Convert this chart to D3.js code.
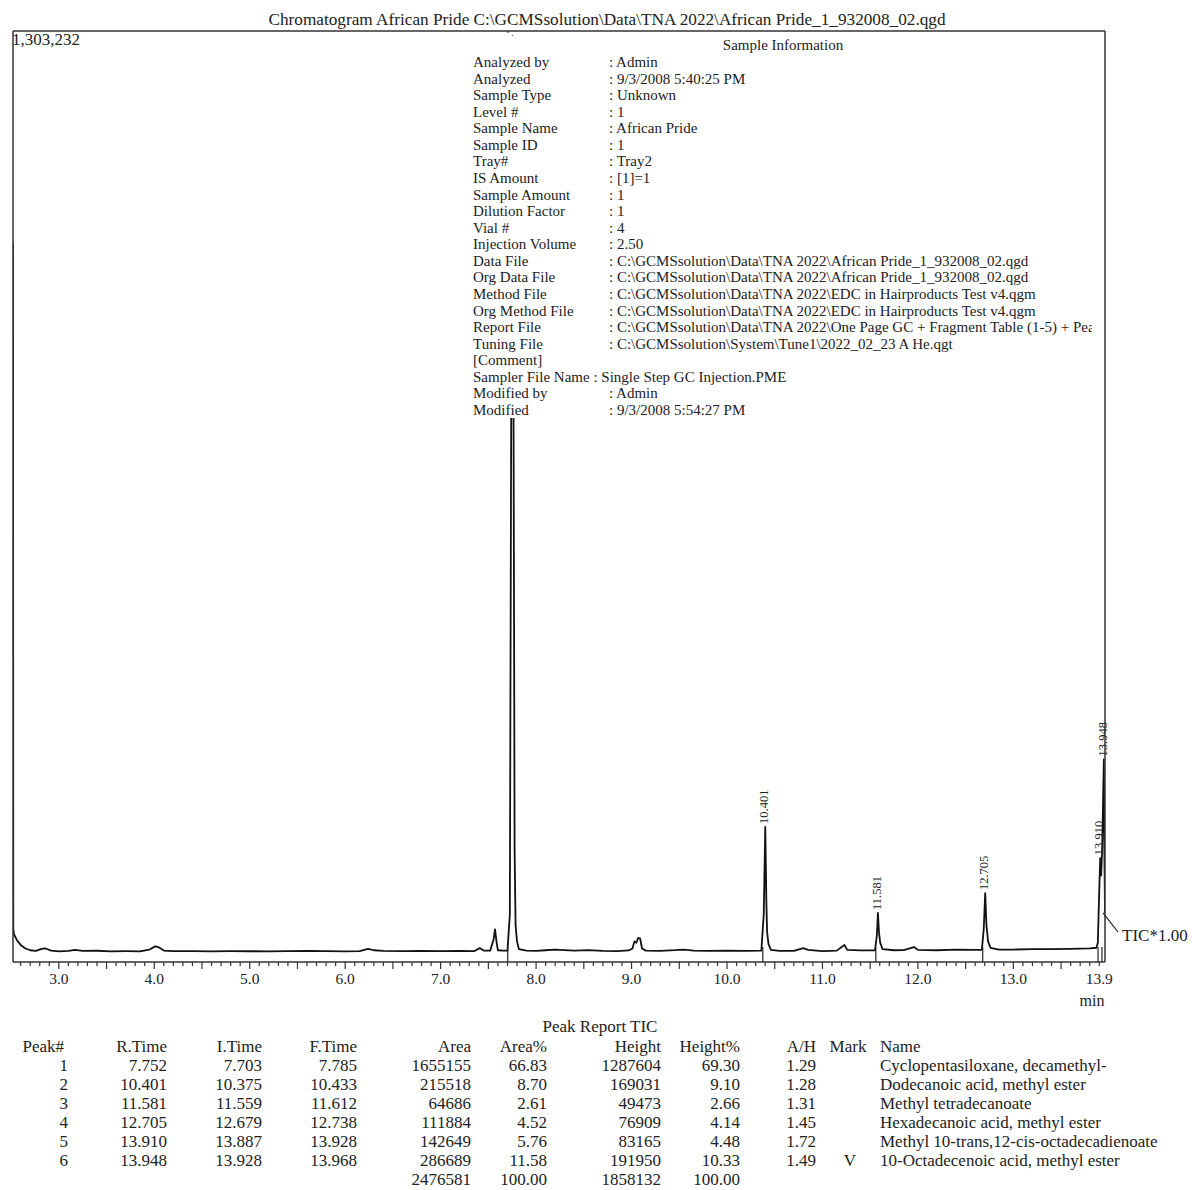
<!DOCTYPE html>
<meta charset="utf-8">
<style>
body { margin: 0; background: #fff; }
svg text { font-family: "Liberation Serif", "DejaVu Serif", serif; fill: #222; }
.frame line { stroke: #333; stroke-width: 1.5px; }
.trace { fill: none; stroke: #111; stroke-width: 1.8px; stroke-linejoin: round; }
</style>
<svg width="1192" height="1190"></svg>
<script src="https://d3js.org/d3.v7.min.js"></script>
<script>

var title = "Chromatogram African Pride C:\\GCMSsolution\\Data\\TNA 2022\\African Pride_1_932008_02.qgd";
var yMaxLabel = "1,303,232";
var yMax = 1303232;
var tStart = 2.52, tEnd = 13.96;
var tickLabels = ["3.0", "4.0", "5.0", "6.0", "7.0", "8.0", "9.0", "10.0", "11.0", "12.0", "13.0", "13.9"];

// TIC trace (min, counts)
var traceT = [2.520, 2.523, 2.53, 2.56, 2.60, 2.65, 2.70, 2.76, 2.82, 2.86, 2.92, 3.00, 3.10, 3.17, 3.25, 3.40,
  3.55, 3.70, 3.85, 3.95, 4.01, 4.05, 4.10, 4.20, 4.40, 4.60, 4.80, 5.00, 5.20, 5.40, 5.60, 5.80, 6.00, 6.15,
  6.24, 6.30, 6.40, 6.60, 6.80, 7.00, 7.20, 7.35, 7.41, 7.45, 7.52, 7.555, 7.570, 7.585, 7.60, 7.66, 7.70,
  7.725, 7.738, 7.752, 7.765, 7.775, 7.785, 7.80, 7.82, 7.90, 8.00, 8.10, 8.20, 8.30, 8.40, 8.55, 8.70, 8.85,
  8.97, 9.01, 9.03, 9.05, 9.07, 9.09, 9.11, 9.15, 9.30, 9.45, 9.55, 9.65, 9.80, 10.00, 10.20, 10.36, 10.385,
  10.401, 10.412, 10.42, 10.435, 10.46, 10.55, 10.70, 10.80, 10.85, 11.00, 11.15, 11.23, 11.26, 11.40, 11.55,
  11.57, 11.581, 11.592, 11.605, 11.63, 11.75, 11.85, 11.96, 12.00, 12.20, 12.40, 12.60, 12.67, 12.69, 12.705,
  12.718, 12.735, 12.76, 12.85, 13.00, 13.20, 13.40, 13.60, 13.80, 13.87, 13.885, 13.897, 13.910, 13.92, 13.93,
  13.948, 13.955, 13.96];
var traceV = [1005000, 40000, 32000, 24000, 17000, 12000, 9500, 8500, 11500, 12000, 9000, 8000, 8500, 10000, 8600, 8800,
  8000, 8200, 8000, 10500, 15000, 13500, 9000, 8200, 8400, 8000, 8300, 8100, 8000, 8400, 8600, 8200, 7900, 8200,
  11500, 9500, 8600, 8400, 8700, 8300, 8500, 8200, 12500, 9000, 9000, 25000, 39000, 22000, 9500, 9000, 9000,
  60000, 700000, 1296000, 700000, 150000, 45000, 22000, 11000, 9000, 8500, 9500, 10500, 9800, 9000, 9700, 8600, 8300,
  9200, 12000, 22000, 20000, 27000, 26000, 12000, 9000, 8700, 9600, 10500, 9000, 8500, 8800, 8600, 9000, 60000,
  183000, 80000, 35000, 18000, 10000, 8700, 8500, 12500, 10000, 8400, 9000, 17000, 10000, 9300, 9500,
  30000, 62000, 35000, 20000, 11000, 9500, 9800, 14000, 10000, 9500, 10500, 10000, 10000, 40000, 90000,
  45000, 22000, 13000, 10500, 10500, 11000, 11000, 11500, 12000, 13000, 20000, 80000, 139000, 115000, 150000,
  278000, 130000, 62000];

// peak labels (R.Time) and the trace value at each label
var peakLabelT = [7.752, 10.401, 11.581, 12.705, 13.910, 13.948];
var peakLabelV = [1296000, 183000, 62000, 90000, 139000, 278000];

// sample information
var infoLabels = ["Analyzed by", "Analyzed", "Sample Type", "Level #", "Sample Name", "Sample ID", "Tray#", "IS Amount",
  "Sample Amount", "Dilution Factor", "Vial #", "Injection Volume", "Data File", "Org Data File", "Method File",
  "Org Method File", "Report File", "Tuning File", "[Comment]", "Sampler File Name", "Modified by", "Modified"];
var infoValues = [": Admin", ": 9/3/2008 5:40:25 PM", ": Unknown", ": 1", ": African Pride", ": 1", ": Tray2", ": [1]=1",
  ": 1", ": 1", ": 4", ": 2.50",
  ": C:\\GCMSsolution\\Data\\TNA 2022\\African Pride_1_932008_02.qgd",
  ": C:\\GCMSsolution\\Data\\TNA 2022\\African Pride_1_932008_02.qgd",
  ": C:\\GCMSsolution\\Data\\TNA 2022\\EDC in Hairproducts Test v4.qgm",
  ": C:\\GCMSsolution\\Data\\TNA 2022\\EDC in Hairproducts Test v4.qgm",
  ": C:\\GCMSsolution\\Data\\TNA 2022\\One Page GC + Fragment Table (1-5) + Peak Report.qgr",
  ": C:\\GCMSsolution\\System\\Tune1\\2022_02_23 A He.qgt",
  "", " : Single Step GC Injection.PME", ": Admin", ": 9/3/2008 5:54:27 PM"];

// peak report table
var peakNo = ["1", "2", "3", "4", "5", "6"];
var rTime = ["7.752", "10.401", "11.581", "12.705", "13.910", "13.948"];
var iTime = ["7.703", "10.375", "11.559", "12.679", "13.887", "13.928"];
var fTime = ["7.785", "10.433", "11.612", "12.738", "13.928", "13.968"];
var area = ["1655155", "215518", "64686", "111884", "142649", "286689"];
var areaPct = ["66.83", "8.70", "2.61", "4.52", "5.76", "11.58"];
var height = ["1287604", "169031", "49473", "76909", "83165", "191950"];
var heightPct = ["69.30", "9.10", "2.66", "4.14", "4.48", "10.33"];
var ah = ["1.29", "1.28", "1.31", "1.45", "1.72", "1.49"];
var mark = ["", "", "", "", "", "V"];
var names = ["Cyclopentasiloxane, decamethyl-", "Dodecanoic acid, methyl ester", "Methyl tetradecanoate",
  "Hexadecanoic acid, methyl ester", "Methyl 10-trans,12-cis-octadecadienoate", "10-Octadecenoic acid, methyl ester"];
var totalArea = "2476581", totalAreaPct = "100.00", totalHeight = "1858132", totalHeightPct = "100.00";

var svg = d3.select("svg");
var plotLeft = 13, plotRight = 1105, plotTop = 31, axisY = 962;

var x = d3.scaleLinear().domain([tStart, tEnd]).range([plotLeft, plotRight]);
var y = d3.scaleLinear().domain([0, yMax]).range([957, plotTop]);

var defs = svg.append("defs");
defs.append("clipPath").attr("id", "plot")
  .append("rect").attr("x", plotLeft).attr("y", plotTop)
  .attr("width", plotRight - plotLeft).attr("height", axisY - plotTop);
defs.append("clipPath").attr("id", "labels")
  .append("rect").attr("x", 0).attr("y", plotTop).attr("width", 1192).attr("height", axisY - plotTop);

// title
svg.append("text").attr("x", 607).attr("y", 25).attr("text-anchor", "middle")
  .style("font-size", "16px").attr("textLength", 677).attr("lengthAdjust", "spacingAndGlyphs")
  .text(title);

var plot = svg.append("g").attr("clip-path", "url(#plot)");

var pts = traceT.map(function(t, i) { return [t, traceV[i]]; });
plot.append("path").attr("class", "trace")
  .attr("d", d3.line().x(function(d) { return x(d[0]); }).y(function(d) { return y(d[1]); })(pts));

// peak start markers
plot.selectAll("line.pk").data(iTime).enter().append("line")
  .attr("x1", function(d) { return x(+d); }).attr("x2", function(d) { return x(+d); })
  .attr("y1", y(14000)).attr("y2", axisY + 4)
  .attr("stroke", "#222").attr("stroke-width", 1.2);

// peak labels
svg.append("g").attr("clip-path", "url(#labels)")
  .selectAll("text").data(peakLabelT).enter().append("text")
  .attr("transform", function(d, i) { return "translate(" + (x(d) + 3) + "," + (y(peakLabelV[i]) - 3) + ") rotate(-90)"; })
  .style("font-size", "12.5px")
  .text(function(d) { return d.toFixed(3); });

// sample information box covers the trace
var info = svg.append("g");
info.append("rect").attr("x", 468).attr("y", 36).attr("width", 630).attr("height", 382).attr("fill", "#fff");
info.append("clipPath").attr("id", "infoclip")
  .append("rect").attr("x", 468).attr("y", 36).attr("width", 624).attr("height", 382);
var ig = info.append("g").attr("clip-path", "url(#infoclip)").style("font-size", "15px");
ig.append("text").attr("x", 783).attr("y", 50).attr("text-anchor", "middle").text("Sample Information");
infoLabels.forEach(function(l, i) {
  var yy = 67 + i * 16.57;
  if (l == "Sampler File Name") {
    ig.append("text").attr("x", 473).attr("y", yy).text(l + infoValues[i]);
  } else {
    ig.append("text").attr("x", 473).attr("y", yy).text(l);
    ig.append("text").attr("x", 609).attr("y", yy).text(infoValues[i]);
  }
});

// frame
var fr = svg.append("g").attr("class", "frame");
fr.append("line").attr("x1", plotLeft).attr("x2", plotRight).attr("y1", plotTop).attr("y2", plotTop);
fr.append("line").attr("x1", plotLeft).attr("x2", plotLeft).attr("y1", plotTop).attr("y2", axisY);
fr.append("line").attr("x1", plotRight).attr("x2", plotRight).attr("y1", plotTop).attr("y2", axisY);
fr.append("line").attr("x1", plotLeft).attr("x2", plotRight).attr("y1", axisY).attr("y2", axisY);

// x ticks
var ticks = d3.range(26, 140).map(function(k) { return k / 10; });
svg.append("g").selectAll("line").data(ticks).enter().append("line")
  .attr("x1", function(d) { return x(d); }).attr("x2", function(d) { return x(d); })
  .attr("y1", axisY).attr("y2", function(d) { return Math.round(d * 10) % 5 == 0 ? axisY + 7 : axisY + 4; })
  .attr("stroke", "#333").attr("stroke-width", 1.2);

svg.append("g").selectAll("text").data(tickLabels).enter().append("text")
  .attr("x", function(d) { return x(+d); }).attr("y", 984).attr("text-anchor", "middle")
  .style("font-size", "15.5px").text(function(d) { return d; });
svg.append("text").attr("x", 1092).attr("y", 1006).attr("text-anchor", "middle")
  .style("font-size", "16px").text("min");

svg.append("text").attr("x", 12).attr("y", 45).style("font-size", "17px").text(yMaxLabel);

// TIC label with leader
var last = pts[pts.length - 1];
svg.append("line").attr("x1", x(last[0]) - 2).attr("y1", y(last[1]))
  .attr("x2", 1118).attr("y2", 932).attr("stroke", "#222").attr("stroke-width", 1.2);
svg.append("text").attr("x", 1122).attr("y", 941).style("font-size", "17px").text("TIC*1.00");

// peak report table
var tb = svg.append("g").style("font-size", "17px");
tb.append("text").attr("x", 600).attr("y", 1032).attr("text-anchor", "middle").text("Peak Report TIC");
var cols = [
  { h: "Peak#", v: peakNo, x: 68, hx: 64, a: "end" },
  { h: "R.Time", v: rTime, x: 167, hx: 167, a: "end" },
  { h: "I.Time", v: iTime, x: 262, hx: 262, a: "end" },
  { h: "F.Time", v: fTime, x: 357, hx: 357, a: "end" },
  { h: "Area", v: area, x: 471, hx: 471, a: "end" },
  { h: "Area%", v: areaPct, x: 547, hx: 547, a: "end" },
  { h: "Height", v: height, x: 661, hx: 661, a: "end" },
  { h: "Height%", v: heightPct, x: 740, hx: 740, a: "end" },
  { h: "A/H", v: ah, x: 816, hx: 816, a: "end" },
  { h: "Mark", v: mark, x: 850, hx: 848, a: "middle" },
  { h: "Name", v: names, x: 880, hx: 880, a: "start" }
];
cols.forEach(function(c) {
  tb.append("text").attr("x", c.hx).attr("y", 1052).attr("text-anchor", c.a).text(c.h);
  c.v.forEach(function(v, i) {
    tb.append("text").attr("x", c.x).attr("y", 1071 + i * 19).attr("text-anchor", c.a).text(v);
  });
});
[[totalArea, 471], [totalAreaPct, 547], [totalHeight, 661], [totalHeightPct, 740]].forEach(function(d) {
  tb.append("text").attr("x", d[1]).attr("y", 1185).attr("text-anchor", "end").text(d[0]);
});

</script>
